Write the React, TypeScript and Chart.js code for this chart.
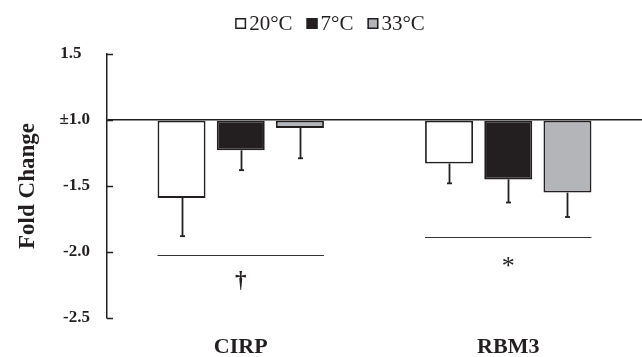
import React, { useEffect, useRef } from "react";
import { Chart, registerables } from "chart.js";

Chart.register(...registerables);

const categories = ["CIRP", "RBM3"];
const seriesNames = ["20°C", "7°C", "33°C"];
const values20 = [-1.59, -1.33];
const values7 = [-1.23, -1.45];
const values33 = [-1.06, -1.55];
const errors20 = [0.29, 0.15];
const errors7 = [0.15, 0.175];
const errors33 = [0.23, 0.185];
const sigLevels = [-2.02, -1.89];
const sigSymbols = ["\u2020", "*"];
const yTickFolds = [1.5, 1.0, -1.5, -2.0, -2.5];
const yTickLabels = ["1.5", "\u00b11.0", "-1.5", "-2.0", "-2.5"];

const INK = "#231f20";
const GREY = "#b3b5b8";
const FONT = '"Liberation Serif", "Times New Roman", serif';
const fills = ["#ffffff", INK, GREY];

// Fold change axis: +1 and -1 share the zero line.
const toAxis = (f: number) => (f <= -1 ? f + 1 : f - 1);

const seriesValues = [values20, values7, values33];
const seriesErrors = [errors20, errors7, errors33];

const overlay = {
  id: "overlay",
  afterDatasetsDraw(chart: any) {
    const ctx = chart.ctx as CanvasRenderingContext2D;
    const y = chart.scales.y;
    const area = chart.chartArea;
    ctx.save();
    ctx.strokeStyle = INK;
    ctx.lineWidth = 1.5;
    // inward ticks
    y.ticks.forEach((t: any) => {
      const py = Math.round(y.getPixelForValue(t.value)) + 0.5;
      ctx.beginPath();
      ctx.moveTo(area.left, py);
      ctx.lineTo(area.left + 6, py);
      ctx.stroke();
    });
    // error bars (one-sided, downward)
    chart.data.datasets.forEach((_ds: any, di: number) => {
      const meta = chart.getDatasetMeta(di);
      meta.data.forEach((bar: any, i: number) => {
        const fold = seriesValues[di][i];
        const err = seriesErrors[di][i];
        const yEnd = y.getPixelForValue(toAxis(fold - err));
        const x = Math.round(bar.x) + 0.5;
        ctx.lineWidth = 1.8;
        ctx.beginPath();
        ctx.moveTo(x, bar.y);
        ctx.lineTo(x, yEnd);
        ctx.stroke();
        ctx.beginPath();
        ctx.moveTo(x - 2.5, yEnd);
        ctx.lineTo(x + 2.5, yEnd);
        ctx.stroke();
      });
    });
    // significance lines and symbols
    const nSets = chart.data.datasets.length;
    categories.forEach((_c, i) => {
      const first = chart.getDatasetMeta(0).data[i] as any;
      const last = chart.getDatasetMeta(nSets - 1).data[i] as any;
      const x0 = first.x - first.width / 2;
      const x1 = last.x + last.width / 2;
      const ly = Math.round(y.getPixelForValue(toAxis(sigLevels[i]))) + 0.5;
      ctx.strokeStyle = "#333";
      ctx.lineWidth = 1.1;
      ctx.beginPath();
      ctx.moveTo(x0, ly);
      ctx.lineTo(x1, ly);
      ctx.stroke();
      ctx.fillStyle = INK;
      ctx.textAlign = "center";
      ctx.textBaseline = "alphabetic";
      const sym = sigSymbols[i];
      if (sym === "*") {
        ctx.font = `26px ${FONT}`;
        ctx.fillText(sym, (x0 + x1) / 2, ly + 36);
      } else {
        ctx.font = `bold 23px ${FONT}`;
        ctx.fillText(sym, (x0 + x1) / 2, ly + 31);
      }
    });
    // category labels
    const xs = chart.scales.x;
    ctx.font = `bold 22px ${FONT}`;
    ctx.fillStyle = INK;
    ctx.textAlign = "center";
    ctx.textBaseline = "alphabetic";
    categories.forEach((c, i) => {
      ctx.fillText(c, xs.getPixelForValue(i), 353);
    });
    // legend
    ctx.font = `21px ${FONT}`;
    const box = 11;
    const gapText = 3;
    const gapItem = 14;
    const widths = seriesNames.map((s) => ctx.measureText(s).width);
    const total =
      widths.reduce((a, b) => a + b, 0) +
      seriesNames.length * (box + gapText) +
      (seriesNames.length - 1) * gapItem;
    let lx = chart.width / 2 + 9 - total / 2;
    const baseY = 30;
    seriesNames.forEach((s, i) => {
      ctx.fillStyle = fills[i];
      ctx.fillRect(lx, 18, box, box);
      ctx.strokeStyle = INK;
      ctx.lineWidth = 1.5;
      ctx.strokeRect(lx + 0.75, 18.75, box - 1.5, box - 1.5);
      ctx.fillStyle = INK;
      ctx.textAlign = "left";
      ctx.fillText(s, lx + box + gapText, baseY);
      lx += box + gapText + widths[i] + gapItem;
    });
    ctx.restore();
  },
};

export default function App() {
  const ref = useRef<HTMLCanvasElement>(null);
  useEffect(() => {
    if (!ref.current) return;
    const datasets = seriesNames.map((name, di) => ({
      label: name,
      data: seriesValues[di].map(toAxis),
      backgroundColor: fills[di],
      borderColor: INK,
      borderWidth: 1.8,
      borderSkipped: false as any,
      categoryPercentage: 0.664,
      barPercentage: 0.81,
    }));
    const chart = new Chart(ref.current, {
      type: "bar",
      data: { labels: categories, datasets },
      options: {
        responsive: false,
        animation: false,
        events: [],
        layout: { padding: { top: 54, bottom: 39, left: 0, right: 0 } },
        plugins: { legend: { display: false }, tooltip: { enabled: false } },
        scales: {
          x: { display: false },
          y: {
            min: -1.5,
            max: 0.5,
            afterFit: (s: any) => {
              s.width = 107;
            },
            afterBuildTicks: (s: any) => {
              s.ticks = yTickFolds.map((f) => ({ value: toAxis(f) }));
            },
            border: { display: true, color: INK, width: 1.5 },
            grid: {
              drawOnChartArea: true,
              drawTicks: false,
              lineWidth: 1.5,
              color: (c: any) => (c.tick && c.tick.value === 0 ? INK : "rgba(0,0,0,0)"),
            },
            ticks: {
              padding: 17,
              color: INK,
              font: { family: FONT, size: 17, weight: "bold" },
              callback: (v: any) => {
                const idx = yTickFolds.findIndex((f) => Math.abs(toAxis(f) - Number(v)) < 1e-6);
                const lbl = idx >= 0 ? yTickLabels[idx] : "";
                return yTickFolds[idx] > 1 ? lbl + "  " : lbl;
              },
            },
            title: {
              display: true,
              text: "Fold Change",
              color: INK,
              font: { family: FONT, size: 23, weight: "bold" },
              padding: { top: 14, bottom: 0 },
            },
          },
        },
      },
      plugins: [overlay],
    });
    return () => chart.destroy();
  }, []);
  return (
    <div style={{ position: "absolute", left: 0, top: 0, width: 642, height: 357, background: "#fff" }}>
      <canvas ref={ref} width={642} height={357} />
    </div>
  );
}
